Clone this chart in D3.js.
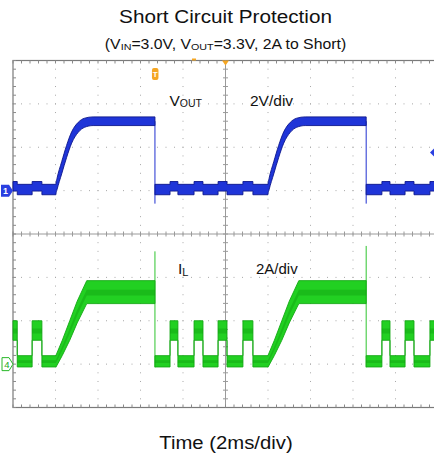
<!DOCTYPE html>
<html lang="en">
<head>
<meta charset="UTF-8">
<title>Short Circuit Protection</title>
<style>
    body { margin: 0; background: #fff; }
    svg { display: block; font-family: "Liberation Sans", Arial, sans-serif; }
</style>
</head>
<body>
<svg id="chart" width="434" height="462"></svg>
<script src="https://d3js.org/d3.v7.min.js"></script>
<script>

// scope screen: 10 x 8 divisions, 2 ms/div
var timeDomain = [0, 20],
    voutDomain = [-10, 6],   // 2 V/div, ground 3 div below top
    ilDomain = [-2, 14];     // 2 A/div, ground 7 div below top

// hiccup cycles (ms): soft-start begins / short pulls output down
var cycleStarts = [2.02, 12.0],
    cycleStops = [6.68, 16.62];

// current pulses while the converter is off (ms)
var pulseStarts = [-0.25, 0.9, 7.39, 8.52, 9.65, 10.82, 17.36, 18.45, 19.62],
    pulseEnds = [0.2, 1.36, 7.76, 8.94, 10.07, 11.29, 17.74, 18.87, 20.0];

// soft-start shape, ms after the cycle start
var voutRampT = [0, 0.05, 0.27, 0.5, 0.74, 1.05, 1.35, 1.75],
    voutRamp = [0.08, 0.3, 1.05, 1.8, 2.45, 2.92, 3.13, 3.2],
    voutRampHalf = [0.24, 0.26, 0.28, 0.28, 0.26, 0.23, 0.21, 0.2];
var ilRampT = [0, 0.3, 0.65, 1.0, 1.45],
    ilRamp = [0.13, 0.75, 1.55, 2.4, 3.32],
    ilRampHalf = [0.27, 0.35, 0.45, 0.5, 0.53];

// band [centre, half width] while off and during a pulse
var voutOff = [0.05, 0.24], voutPulse = [0.2, 0.22],
    ilOff = [0.13, 0.26], ilPulse = [1.55, 0.45];

// edges at the moment of the short
var voutDrop = [-0.6, -0.6],
    ilSpikeLow = [-0.15, -0.15],
    ilSpikeTop = [5.2, 5.45];

var trigLevel = 1.76; // V, right-edge marker

var svg = d3.select("#chart"),
    x = d3.scaleLinear().domain(timeDomain).range([13, 438]),
    yV = d3.scaleLinear().domain(voutDomain).range([407.5, 60.5]),
    yI = d3.scaleLinear().domain(ilDomain).range([407.5, 60.5]),
    xDiv = d3.scaleLinear().domain([0, 10]).range(x.range()),
    yDiv = d3.scaleLinear().domain([0, 8]).range(yV.range().slice().reverse());

// ---- graticule ----
var grid = svg.append("g");
var minorX = d3.range(0, 50.01, 1).map(d => xDiv(d / 5)),
    minorY = d3.range(0, 40.01, 1).map(d => yDiv(d / 5));

// dotted division lines
d3.range(1, 10).filter(d => d != 5).forEach(d => {
    grid.selectAll(null).data(minorY).enter().append("rect")
        .attr("x", xDiv(d) - 0.5).attr("y", v => v - 0.5)
        .attr("width", 1).attr("height", 1).attr("fill", "#a8a8a8");
});
d3.range(1, 8).filter(d => d != 4).forEach(d => {
    grid.selectAll(null).data(minorX).enter().append("rect")
        .attr("x", v => v - 0.5).attr("y", yDiv(d) - 0.5)
        .attr("width", 1).attr("height", 1).attr("fill", "#a8a8a8");
});

// centre axes with minor ticks
grid.append("line").attr("x1", xDiv(5)).attr("x2", xDiv(5))
    .attr("y1", yDiv(0)).attr("y2", yDiv(8)).attr("stroke", "#9a9a9a");
grid.append("line").attr("x1", xDiv(0)).attr("x2", xDiv(10))
    .attr("y1", yDiv(4)).attr("y2", yDiv(4)).attr("stroke", "#9a9a9a");
grid.selectAll(null).data(minorY).enter().append("line")
    .attr("x1", xDiv(5) - 2.5).attr("x2", xDiv(5) + 2.5)
    .attr("y1", d => d).attr("y2", d => d).attr("stroke", "#9a9a9a");
grid.selectAll(null).data(minorX).enter().append("line")
    .attr("x1", d => d).attr("x2", d => d)
    .attr("y1", yDiv(4) - 2.5).attr("y2", yDiv(4) + 2.5).attr("stroke", "#9a9a9a");

// frame with inward ticks
grid.append("rect").attr("x", xDiv(0)).attr("y", yDiv(0))
    .attr("width", xDiv(10) - xDiv(0)).attr("height", yDiv(8) - yDiv(0))
    .attr("fill", "none").attr("stroke", "#7a7a7a").attr("stroke-width", 1.2);
grid.selectAll(null).data(minorX).enter().append("line")
    .attr("x1", d => d).attr("x2", d => d)
    .attr("y1", yDiv(0)).attr("y2", yDiv(0) + 3).attr("stroke", "#8a8a8a");
grid.selectAll(null).data(minorX).enter().append("line")
    .attr("x1", d => d).attr("x2", d => d)
    .attr("y1", yDiv(8)).attr("y2", yDiv(8) - 3).attr("stroke", "#8a8a8a");
grid.selectAll(null).data(minorY).enter().append("line")
    .attr("x1", xDiv(0)).attr("x2", xDiv(0) + 3)
    .attr("y1", d => d).attr("y2", d => d).attr("stroke", "#8a8a8a");

// ---- traces ----
function buildSegment(t0, t1, off, pulse, rampT, ramp, rampHalf) {
    var pts = [],
        cs = cycleStarts.find(c => c > t0 && c < t1),
        offEnd = cs === undefined ? t1 : cs,
        tCur = t0;
    pulseStarts.forEach((ps, i) => {
        var pe = pulseEnds[i];
        if (pe <= t0 || ps >= offEnd) return;
        var a = Math.max(ps, t0), b = Math.min(pe, offEnd);
        if (a > tCur) pts.push({t: tCur, c: off[0], h: off[1]}, {t: a, c: off[0], h: off[1]});
        pts.push({t: a, c: pulse[0], h: pulse[1]}, {t: b, c: pulse[0], h: pulse[1]});
        tCur = b;
    });
    pts.push({t: tCur, c: off[0], h: off[1]}, {t: offEnd, c: off[0], h: off[1]});
    if (cs !== undefined) {
        rampT.forEach((r, i) => pts.push({t: cs + r, c: ramp[i], h: rampHalf[i]}));
        var last = rampT.length - 1;
        pts.push({t: t1, c: ramp[last], h: rampHalf[last]});
    }
    return pts;
}

var bounds = [timeDomain[0]].concat(cycleStops, [timeDomain[1]]);
var voutSegs = [], ilSegs = [];
for (var k = 0; k < bounds.length - 1; k++) {
    voutSegs.push(buildSegment(bounds[k], bounds[k + 1], voutOff, voutPulse, voutRampT, voutRamp, voutRampHalf));
    ilSegs.push(buildSegment(bounds[k], bounds[k + 1], ilOff, ilPulse, ilRampT, ilRamp, ilRampHalf));
}

var voutArea = d3.area().x(d => x(d.t)).y0(d => yV(d.c - d.h)).y1(d => yV(d.c + d.h))
        .curve(d3.curveMonotoneX),
    ilArea = d3.area().x(d => x(d.t)).y0(d => yI(d.c - d.h)).y1(d => yI(d.c + d.h)),
    ilCore = d3.area().x(d => x(d.t)).y0(d => yI(d.c - d.h * 0.3)).y1(d => yI(d.c + d.h * 0.2));

var traces = svg.append("g");

// IL (green)
cycleStops.forEach((t, i) => {
    traces.append("line").attr("x1", x(t)).attr("x2", x(t))
        .attr("y1", yI(ilSpikeLow[i])).attr("y2", yI(ilSpikeTop[i]))
        .attr("stroke", "#2fc42f").attr("stroke-width", 1);
});
traces.selectAll(".il").data(ilSegs).enter().append("path")
    .attr("class", "il")
    .attr("d", ilArea)
    .attr("fill", "#22d022")
    .attr("stroke", "#14a814").attr("stroke-width", 0.9)
    .attr("stroke-linejoin", "round");
traces.selectAll(".ilcore").data(ilSegs).enter().append("path")
    .attr("class", "ilcore")
    .attr("d", ilCore)
    .attr("fill", "#109a10").attr("opacity", 0.4);

// VOUT (blue)
cycleStops.forEach((t, i) => {
    traces.append("line").attr("x1", x(t)).attr("x2", x(t))
        .attr("y1", yV(voutRamp[voutRamp.length - 1])).attr("y2", yV(voutDrop[i]))
        .attr("stroke", "#2030d0").attr("stroke-width", 1);
});
traces.selectAll(".vout").data(voutSegs).enter().append("path")
    .attr("class", "vout")
    .attr("d", voutArea)
    .attr("fill", "#1f35d8")
    .attr("stroke", "#0c168c").attr("stroke-width", 0.9)
    .attr("stroke-linejoin", "round");

// ---- scope markers ----
var mk = svg.append("g");
// channel 1 ground
mk.append("path")
    .attr("d", `M1,${yV(0) - 6} h8 l4,6 l-4,6 h-8 z`)
    .attr("fill", "#2a3fe0");
mk.append("text").attr("x", 5.5).attr("y", yV(0) + 3.5)
    .attr("text-anchor", "middle").attr("font-size", 9).attr("font-weight", "bold")
    .attr("fill", "#fff").text("1");
// channel 4 ground
mk.append("path")
    .attr("d", `M2,${yI(0) - 6.5} h7 l4,6.5 l-4,6.5 h-7 z`)
    .attr("fill", "#fff").attr("stroke", "#28b828").attr("stroke-width", 1);
mk.append("text").attr("x", 7).attr("y", yI(0) + 3.5)
    .attr("text-anchor", "middle").attr("font-size", 9.5)
    .attr("fill", "#1aa81a").text("4");
// trigger marks
mk.append("rect").attr("x", x(cycleStops[0]) - 3).attr("y", 68)
    .attr("width", 6.5).attr("height", 12).attr("rx", 2)
    .attr("fill", "#f5a623");
mk.append("text").attr("x", x(cycleStops[0]) + 0.3).attr("y", 77)
    .attr("text-anchor", "middle").attr("font-size", 8).attr("font-weight", "bold")
    .attr("fill", "#fff").text("T");
mk.append("path")
    .attr("d", `M${xDiv(5) - 3.5},${yDiv(0)} h7 l-3.5,5 z`)
    .attr("fill", "#f5a623");
mk.append("rect").attr("x", 192).attr("y", yDiv(0) - 2)
    .attr("width", 4).attr("height", 2).attr("fill", "#f5a623");
mk.append("path")
    .attr("d", `M${430},${yV(trigLevel)} l5,-5 l5,5 l-5,5 z`)
    .attr("fill", "#2a3fe0");

// ---- labels ----
var lab = svg.append("g").attr("fill", "#111");
var vLab = lab.append("text").attr("x", 169.5).attr("y", 106).attr("font-size", 15.5);
vLab.append("tspan").text("V");
vLab.append("tspan").attr("font-size", 10.5).attr("dy", 0.5).text("OUT");
lab.append("text").attr("x", 250).attr("y", 106).attr("font-size", 15.5).text("2V/div");

var iLab = lab.append("text").attr("x", 178).attr("y", 274).attr("font-size", 15.5);
iLab.append("tspan").text("I");
iLab.append("tspan").attr("font-size", 11).attr("dy", 1.5).text("L");
lab.append("text").attr("x", 256).attr("y", 274).attr("font-size", 15).text("2A/div");

// titles (source art is slightly stretched horizontally)
svg.append("text")
    .attr("transform", "translate(225.5,22.5) scale(1.12,1)")
    .attr("text-anchor", "middle").attr("font-size", 18.5).attr("fill", "#111")
    .text("Short Circuit Protection");

var sub = svg.append("text")
    .attr("transform", "translate(225.5,48.5) scale(1.13,1)")
    .attr("text-anchor", "middle").attr("font-size", 14).attr("fill", "#111");
sub.append("tspan").text("(V");
sub.append("tspan").attr("font-size", 9.5).attr("dy", 1.5).text("IN");
sub.append("tspan").attr("dy", -1.5).text("=3.0V, V");
sub.append("tspan").attr("font-size", 9.5).attr("dy", 1.5).text("OUT");
sub.append("tspan").attr("dy", -1.5).text("=3.3V, 2A to Short)");

svg.append("text")
    .attr("transform", "translate(226,449) scale(1.16,1)")
    .attr("text-anchor", "middle").attr("font-size", 17.5).attr("fill", "#111")
    .text("Time (2ms/div)");

</script>
</body>
</html>
